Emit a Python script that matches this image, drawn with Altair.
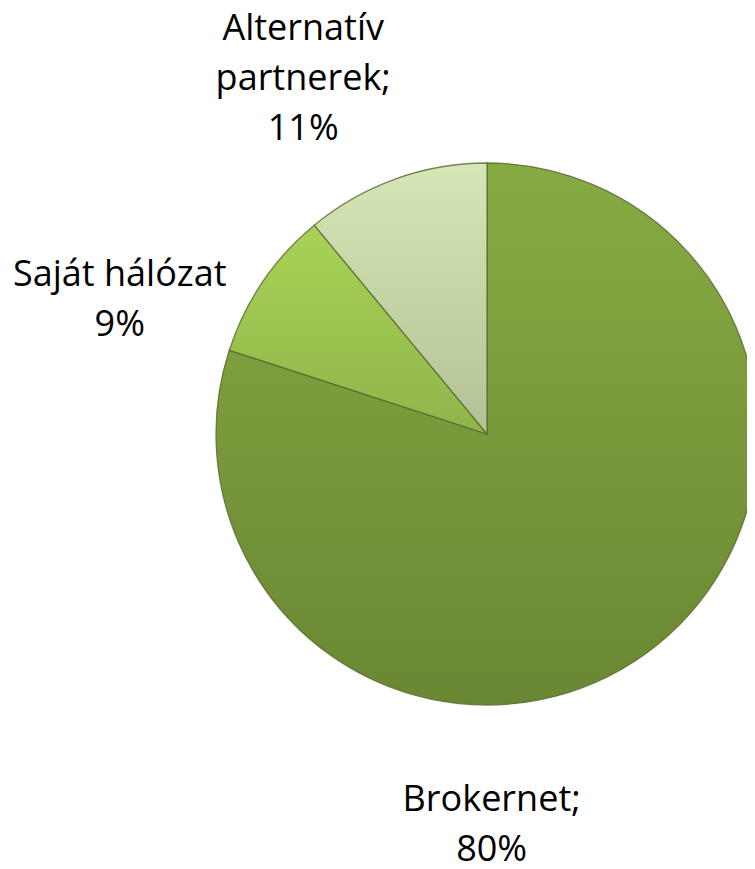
import altair as alt
import pandas as pd

# Data
categories = ["Brokernet", "Saját hálózat", "Alternatív partnerek"]
values = [80, 9, 11]
labels = ["Brokernet;\n80%", "Saját hálózat\n9%", "Alternatív\npartnerek;\n11%"]

df = pd.DataFrame({
    "idx": list(range(len(categories))),
    "category": categories,
    "value": values,
    "label": labels,
})

CX, CY, R = 479, 426, 271

gradients = {
    "Brokernet": ("#87ab43", "#6a8733"),
    "Saját hálózat": ("#a8d257", "#8fb549"),
    "Alternatív partnerek": ("#d5e7b6", "#b2c294"),
}

# label placement (radius, dx, dy)
label_pos = {
    "Alternatív partnerek": (398, -49, -31),
    "Saját hálózat": (392, -43, 61),
    "Brokernet": (389, -224, 51),
}

base = alt.Chart(df).transform_window(
    cum="sum(value)", sort=[alt.SortField("idx")], frame=[None, 0]
).transform_calculate(
    start="datum.cum - datum.value",
    mid="datum.cum - datum.value / 2",
)

theta_scale = alt.Scale(domain=[0, 100])

layers = []
for cat in categories:
    top, bottom = gradients[cat]
    grad = alt.LinearGradient(
        gradient="linear",
        stops=[alt.GradientStop(color=top, offset=0), alt.GradientStop(color=bottom, offset=1)],
        x1=0, x2=0, y1=0, y2=1,
    )
    layers.append(
        base.transform_filter(alt.datum.category == cat)
        .mark_arc(radius=R, fill=grad, stroke="#56682f", strokeWidth=1.3, strokeOpacity=0.8)
        .encode(
            theta=alt.Theta("start:Q", scale=theta_scale),
            theta2="cum:Q",
            x=alt.value(CX),
            y=alt.value(CY),
        )
    )

for cat in categories:
    r, dx, dy = label_pos[cat]
    layers.append(
        base.transform_filter(alt.datum.category == cat)
        .mark_text(
            radius=r, dx=dx, dy=dy, font="Open Sans", fontSize=36, lineHeight=50,
            lineBreak="\n", align="center", baseline="middle", color="#000000",
        )
        .encode(
            theta=alt.Theta("mid:Q", scale=theta_scale),
            text="label:N",
            x=alt.value(CX),
            y=alt.value(CY),
        )
    )

chart = alt.layer(*layers).properties(
    width=739, height=861, padding=0, autosize=alt.AutoSizeParams(type="none")
).configure_view(stroke=None)

chart.save("out.html", embed_options={"renderer": "svg", "actions": False})
